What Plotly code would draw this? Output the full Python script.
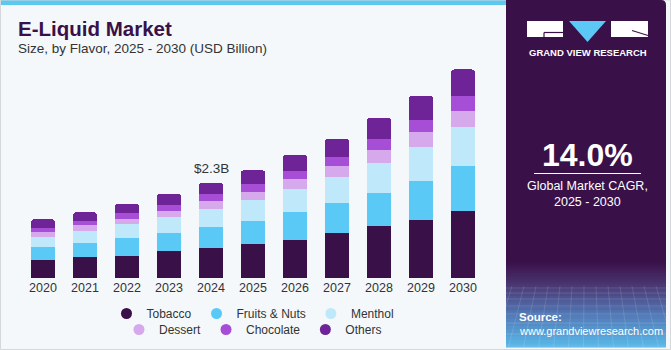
import plotly.graph_objects as go

# ---------------- data ----------------
years = ["2020", "2021", "2022", "2023", "2024", "2025", "2026", "2027", "2028", "2029", "2030"]
tobacco = [0.44, 0.50, 0.54, 0.65, 0.72, 0.83, 0.93, 1.08, 1.25, 1.41, 1.63]
fruits_nuts = [0.32, 0.35, 0.43, 0.44, 0.52, 0.56, 0.67, 0.73, 0.82, 0.94, 1.08]
menthol = [0.24, 0.29, 0.34, 0.38, 0.44, 0.49, 0.56, 0.63, 0.71, 0.82, 0.94]
dessert = [0.11, 0.14, 0.13, 0.16, 0.18, 0.21, 0.24, 0.27, 0.31, 0.36, 0.40]
chocolate = [0.10, 0.11, 0.14, 0.14, 0.17, 0.18, 0.20, 0.23, 0.27, 0.29, 0.36]
others = [0.21, 0.20, 0.22, 0.27, 0.27, 0.34, 0.39, 0.43, 0.51, 0.59, 0.64]

series_names = ["Tobacco", "Fruits & Nuts", "Menthol", "Dessert", "Chocolate", "Others"]
series_values = [tobacco, fruits_nuts, menthol, dessert, chocolate, others]
series_colors = ["#3A1048", "#5BC9F6", "#BFE9FA", "#D5A9EC", "#A64FD6", "#6E2396"]

label_year = "2024"
label_text = "$2.3B"
cagr_text = "14.0%"

# ---------------- geometry helpers ----------------
W, H = 671, 350
ML, MT = 22, 60
PW, PH = 462, 218
MR = W - ML - PW
MB = H - MT - PH
BASE = MT + PH


def X(px):
    return (px - ML) / PW


def Y(py):
    return (BASE - py) / PH


fig = go.Figure()

for i, (name, vals, col) in enumerate(zip(series_names, series_values, series_colors)):
    fig.add_trace(go.Bar(
        x=years, y=vals, name=name, marker=dict(color=col, line=dict(width=0)),
        showlegend=False, hoverinfo="skip"))

for i, (name, col) in enumerate(zip(series_names, series_colors)):
    fig.add_trace(go.Scatter(
        x=[years[0]], y=[None], mode="markers", name=name,
        marker=dict(color=col, size=11, symbol="circle"),
        legend="legend" if i < 3 else "legend2", showlegend=True, hoverinfo="skip"))

totals = [sum(v) for v in zip(*series_values)]
idx = years.index(label_year)

shapes = []
annotations = []

# top blue strip
shapes.append(dict(type="rect", xref="paper", yref="paper", x0=X(0), x1=X(506), y0=Y(0), y1=Y(5),
                   fillcolor="#5BC8F0", line=dict(width=0), layer="below"))
# light border left/bottom
shapes.append(dict(type="rect", xref="paper", yref="paper", x0=X(0.5), x1=X(670.5), y0=Y(349.5), y1=Y(0),
                   fillcolor="rgba(0,0,0,0)", line=dict(width=1, color="#D4D8DC"), layer="below"))

# right panel (with rounded top-right corner)
rx = 5 / PW
ry = 5 / PH
px0, px1 = X(506), X(666)
py0, py1 = Y(347), Y(0)
panel_path = (f"M {px0},{py0} L {px0},{py1} L {px1 - rx},{py1} Q {px1},{py1} {px1},{py1 - ry} "
              f"L {px1},{py0} Z")
shapes.append(dict(type="path", xref="paper", yref="paper", path=panel_path,
                   fillcolor="#3A1049", line=dict(width=0), layer="below"))

# gradient at bottom of panel
def lerp(c1, c2, t):
    a = [int(c1[i:i + 2], 16) for i in (1, 3, 5)]
    b = [int(c2[i:i + 2], 16) for i in (1, 3, 5)]
    return "#" + "".join(f"{round(a[k] + (b[k] - a[k]) * t):02x}" for k in range(3))

stops = [(262, "#3A1049"), (284, "#4A3570"), (312, "#5274B2"), (347, "#5BB9E9")]
for s in range(len(stops) - 1):
    ya, ca = stops[s]
    yb, cb = stops[s + 1]
    n = 10
    for k in range(n):
        y0p = ya + (yb - ya) * k / n
        y1p = ya + (yb - ya) * (k + 1) / n
        shapes.append(dict(type="rect", xref="paper", yref="paper", x0=px0, x1=px1,
                           y0=Y(y1p + 0.5), y1=Y(y0p), fillcolor=lerp(ca, cb, (k + 0.5) / n),
                           line=dict(width=0), layer="below"))
# faint grid texture
for gx in range(512, 666, 12):
    shapes.append(dict(type="line", xref="paper", yref="paper", x0=X(gx), x1=X(gx + (gx - 586) * 0.25),
                       y0=Y(286), y1=Y(347), line=dict(color="rgba(255,255,255,0.12)", width=1), layer="below"))
for gy in [288, 293, 299, 306, 314, 323, 334, 346]:
    shapes.append(dict(type="line", xref="paper", yref="paper", x0=px0, x1=px1,
                       y0=Y(gy), y1=Y(gy), line=dict(color="rgba(255,255,255,0.12)", width=1), layer="below"))

# logo
shapes.append(dict(type="rect", xref="paper", yref="paper", x0=X(527), x1=X(563), y0=Y(37), y1=Y(21),
                   fillcolor="white", line=dict(width=0)))
shapes.append(dict(type="line", xref="paper", yref="paper", x0=X(544), x1=X(563), y0=Y(32.5), y1=Y(32.5),
                   line=dict(color="#3A1049", width=1.2)))
shapes.append(dict(type="line", xref="paper", yref="paper", x0=X(544), x1=X(544), y0=Y(32.5), y1=Y(37),
                   line=dict(color="#3A1049", width=1.2)))
shapes.append(dict(type="path", xref="paper", yref="paper",
                   path=f"M {X(569)},{Y(21)} L {X(606)},{Y(21)} L {X(587.5)},{Y(42)} Z",
                   fillcolor="#5BC8F5", line=dict(width=0)))
shapes.append(dict(type="rect", xref="paper", yref="paper", x0=X(611), x1=X(648), y0=Y(37), y1=Y(21),
                   fillcolor="white", line=dict(width=0)))
shapes.append(dict(type="line", xref="paper", yref="paper", x0=X(632), x1=X(648), y0=Y(30.5), y1=Y(35.5),
                   line=dict(color="#3A1049", width=1.2)))
# CAGR underline
shapes.append(dict(type="line", xref="paper", yref="paper", x0=X(534), x1=X(641), y0=Y(173.5), y1=Y(173.5),
                   line=dict(color="white", width=1)))

FONT = "Liberation Sans, Arial, sans-serif"

annotations += [
    dict(text="<b>E-Liquid Market</b>", xref="paper", yref="paper", x=X(16), y=Y(28), xanchor="left",
         yanchor="middle", showarrow=False, font=dict(family=FONT, size=20.5, color="#3A1048")),
    dict(text="Size, by Flavor, 2025 - 2030 (USD Billion)", xref="paper", yref="paper", x=X(16), y=Y(48),
         xanchor="left", yanchor="middle", showarrow=False, font=dict(family=FONT, size=13.5, color="#333333")),
    dict(text=label_text, x=idx, y=totals[idx], yshift=15, showarrow=False, xanchor="center",
         yanchor="middle", font=dict(family=FONT, size=13.5, color="#333333")),
    dict(text="<b>GRAND VIEW RESEARCH</b>", xref="paper", yref="paper", x=X(587.5), y=Y(52.5),
         xanchor="center", yanchor="middle", showarrow=False, font=dict(family=FONT, size=9.5, color="white")),
    dict(text=f"<b>{cagr_text}</b>", xref="paper", yref="paper", x=X(587.5), y=Y(155),
         xanchor="center", yanchor="middle", showarrow=False, font=dict(family=FONT, size=32, color="white")),
    dict(text="Global Market CAGR,", xref="paper", yref="paper", x=X(587.5), y=Y(185.5),
         xanchor="center", yanchor="middle", showarrow=False, font=dict(family=FONT, size=12.5, color="white")),
    dict(text="2025 - 2030", xref="paper", yref="paper", x=X(587.5), y=Y(201.5),
         xanchor="center", yanchor="middle", showarrow=False, font=dict(family=FONT, size=12.5, color="white")),
    dict(text="<b>Source:</b>", xref="paper", yref="paper", x=X(517), y=Y(316.5),
         xanchor="left", yanchor="middle", showarrow=False, font=dict(family=FONT, size=11.5, color="white")),
    dict(text="www.grandviewresearch.com", xref="paper", yref="paper", x=X(517), y=Y(330.5),
         xanchor="left", yanchor="middle", showarrow=False, font=dict(family=FONT, size=11, color="white")),
]

fig.update_layout(
    width=W, height=H,
    margin=dict(l=ML, r=MR, t=MT, b=MB, pad=0, autoexpand=False),
    paper_bgcolor="#F4F8FB", plot_bgcolor="rgba(0,0,0,0)",
    barmode="stack", bargap=0.43, barcornerradius=3,
    font=dict(family=FONT, size=12, color="#333333"),
    xaxis=dict(type="category", categoryorder="array", categoryarray=years, range=[-0.5, len(years) - 0.5],
               showgrid=False, showline=False, zeroline=False, ticks="",
               tickfont=dict(family=FONT, size=12.5, color="#333333"), fixedrange=True),
    yaxis=dict(range=[0, PH / 41.3], visible=False, showgrid=False, zeroline=False, fixedrange=True),
    legend=dict(orientation="h", x=0.5, xanchor="center", y=Y(299), yanchor="top", traceorder="normal",
                font=dict(family=FONT, size=12, color="#333333"), bgcolor="rgba(0,0,0,0)",
                itemclick=False, itemdoubleclick=False, tracegroupgap=0),
    legend2=dict(orientation="h", x=0.5, xanchor="center", y=Y(315), yanchor="top", traceorder="normal",
                 font=dict(family=FONT, size=12, color="#333333"), bgcolor="rgba(0,0,0,0)",
                 itemclick=False, itemdoubleclick=False, tracegroupgap=0),
    shapes=shapes, annotations=annotations, showlegend=True,
)

fig.write_html("out.html", config={"displayModeBar": False})
